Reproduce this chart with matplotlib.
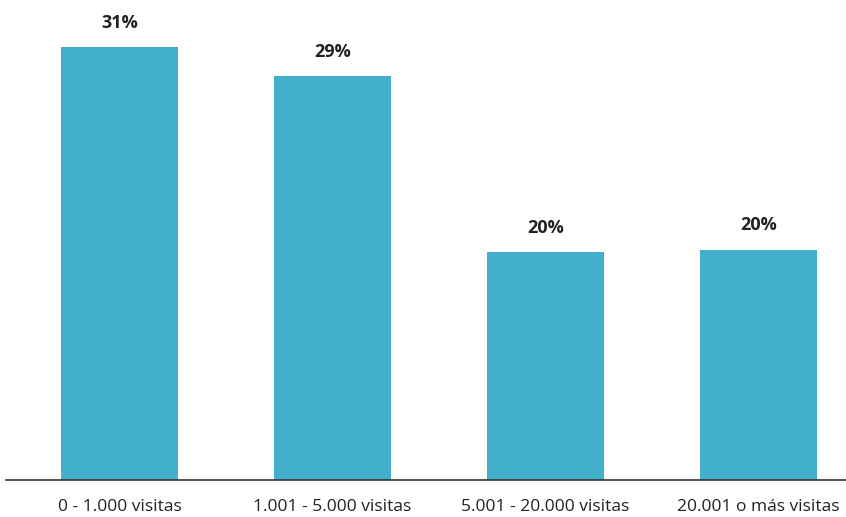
import matplotlib
matplotlib.use("Agg")
import matplotlib.pyplot as plt

categories = ["0 - 1.000 visitas", "1.001 - 5.000 visitas",
              "5.001 - 20.000 visitas", "20.001 o más visitas"]
# bar heights as drawn in the reference (labels are as printed)
values = [31.0, 28.9, 16.3, 16.5]
labels = ["31%", "29%", "20%", "20%"]

BAR_COLOUR = "#43b0cb"
TEXT_COLOUR = "#222222"

plt.rcParams["font.family"] = ["Open Sans", "DejaVu Sans"]

fig = plt.figure(figsize=(8.46, 5.17), dpi=100)
ax = fig.add_axes([6 / 846, 37 / 517, 840 / 846, 480 / 517])

x = range(len(categories))
bars = ax.bar(x, values, width=0.55, color=BAR_COLOUR, zorder=2)

for b, lab in zip(bars, labels):
    ax.annotate(lab, (b.get_x() + b.get_width() / 2, b.get_height()),
                xytext=(0, 11), textcoords="offset points",
                ha="center", va="bottom", fontsize=13,
                fontweight="bold", color=TEXT_COLOUR)

ax.set_xlim(-113.5 / 213, 3 + 87.5 / 213)
ax.set_ylim(0, 31.0 * 480 / 433)

ax.set_xticks(list(x))
ax.set_xticklabels(categories, fontsize=12.5, color=TEXT_COLOUR)
ax.tick_params(axis="x", length=0, pad=14)
ax.set_yticks([])

for side in ["top", "right", "left"]:
    ax.spines[side].set_visible(False)
ax.spines["bottom"].set_color("#333333")
ax.spines["bottom"].set_linewidth(1.2)

fig.savefig("out.png", dpi=100)
